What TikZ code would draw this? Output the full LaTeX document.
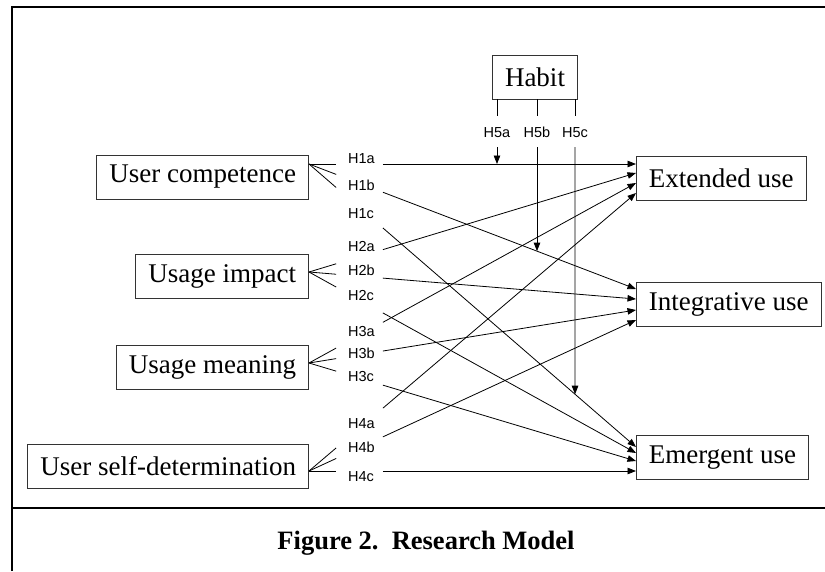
\documentclass[tikz,border=0pt]{standalone}
\usepackage{fontspec}
\setmainfont{Liberation Serif}
\setsansfont{Liberation Sans}
\usetikzlibrary{arrows.meta,calc}

\begin{document}
\begin{tikzpicture}[x=1pt,y=-1pt]
        \tikzstyle{every node}=[inner sep=0pt, text=black]
        \tikzstyle{box}=[rectangle, draw=black!80, line width=0.9pt, minimum height=44pt, inner xsep=12.5pt, font=\fontsize{27}{30}\selectfont]
        \tikzstyle{hyp}=[anchor=base west, font=\sffamily\fontsize{14.5}{16}\selectfont]
        \tikzstyle{edge}=[black, line width=0.8pt]
        \tikzstyle{arr}=[edge, -{Triangle[length=8.5pt,width=6.5pt]}]
        \tikzstyle{frame}=[black, line width=2.5pt]

        \useasboundingbox (0,0) rectangle (825,571);

        \node[box, anchor=east] (uc) at (309,177)   {User competence};
        \node[box, anchor=east] (ui) at (309,276)   {Usage impact};
        \node[box, anchor=east] (um) at (309,367)   {Usage meaning};
        \node[box, anchor=east] (sd) at (309,466.5) {User self-determination};

        \node[box, anchor=west] (ext) at (636,178)   {Extended use};
        \node[box, anchor=west] (int) at (636,304)   {Integrative use};
        \node[box, anchor=west] (emg) at (636,457.5) {Emergent use};

        \node[box] (habit) at (535,77) {Habit};

        \coordinate (uc-o) at (309,164);
        \coordinate (ui-o) at (309,272);
        \coordinate (um-o) at (309,363);
        \coordinate (sd-o) at (309,471);

        \coordinate (ext-1) at (636,164);
        \coordinate (ext-2) at (636,173);
        \coordinate (ext-3) at (636,183);
        \coordinate (ext-4) at (636,193);
        \coordinate (int-1) at (636,289);
        \coordinate (int-2) at (636,299);
        \coordinate (int-3) at (636,310);
        \coordinate (int-4) at (636,320);
        \coordinate (emg-1) at (636,447);
        \coordinate (emg-2) at (636,453);
        \coordinate (emg-3) at (636,461);
        \coordinate (emg-4) at (636,471);

        \foreach \h/\y in {H1a/163, H1b/190, H1c/218, H2a/251, H2b/275, H2c/300,
                           H3a/336, H3b/358, H3c/381, H4a/428, H4b/452, H4c/481}
            \node[hyp] (\h) at (348,\y) {\h};

        \foreach \s/\t in {uc-o/ext-1, uc-o/int-1, uc-o/emg-1,
                           ui-o/ext-2, ui-o/int-2, ui-o/emg-2,
                           um-o/ext-3, um-o/int-3, um-o/emg-3,
                           sd-o/ext-4, sd-o/int-4, sd-o/emg-4}
        {
            \draw[edge] (\s) -- ($(\s)!0.083!(\t)$);
            \draw[arr] ($(\s)!0.226!(\t)$) -- (\t);
        }

        \coordinate (hb-a) at (497,99);
        \coordinate (hb-b) at (537,99);
        \coordinate (hb-c) at (575,99);
        \node[hyp, anchor=base] (H5a) at (497,137) {H5a};
        \node[hyp, anchor=base] (H5b) at (537,137) {H5b};
        \node[hyp, anchor=base] (H5c) at (575,137) {H5c};
        \coordinate (h5a-in) at (497,147);
        \coordinate (h5b-in) at (537,147);
        \coordinate (h5c-in) at (575,147);

        \draw[edge] (hb-a) -- (hb-a |- 0,116);
        \draw[edge] (hb-b) -- (hb-b |- 0,116);
        \draw[edge] (hb-c) -- (hb-c |- 0,116);
        \draw[arr] (h5a-in) -- (intersection of hb-a--h5a-in and uc-o--ext-1);
        \draw[arr] (h5b-in) -- (intersection of hb-b--h5b-in and uc-o--int-1);
        \draw[arr] (h5c-in) -- (intersection of hb-c--h5c-in and uc-o--emg-1);

        \draw[frame] (12,571) -- (12,7) -- (825,7);
        \draw[frame] (12,508) -- (825,508);

        \node[font=\bfseries\fontsize{26.5}{30}\selectfont, anchor=base] (caption) at (426,549) {Figure 2.\ \ Research Model};
\end{tikzpicture}
\end{document}
